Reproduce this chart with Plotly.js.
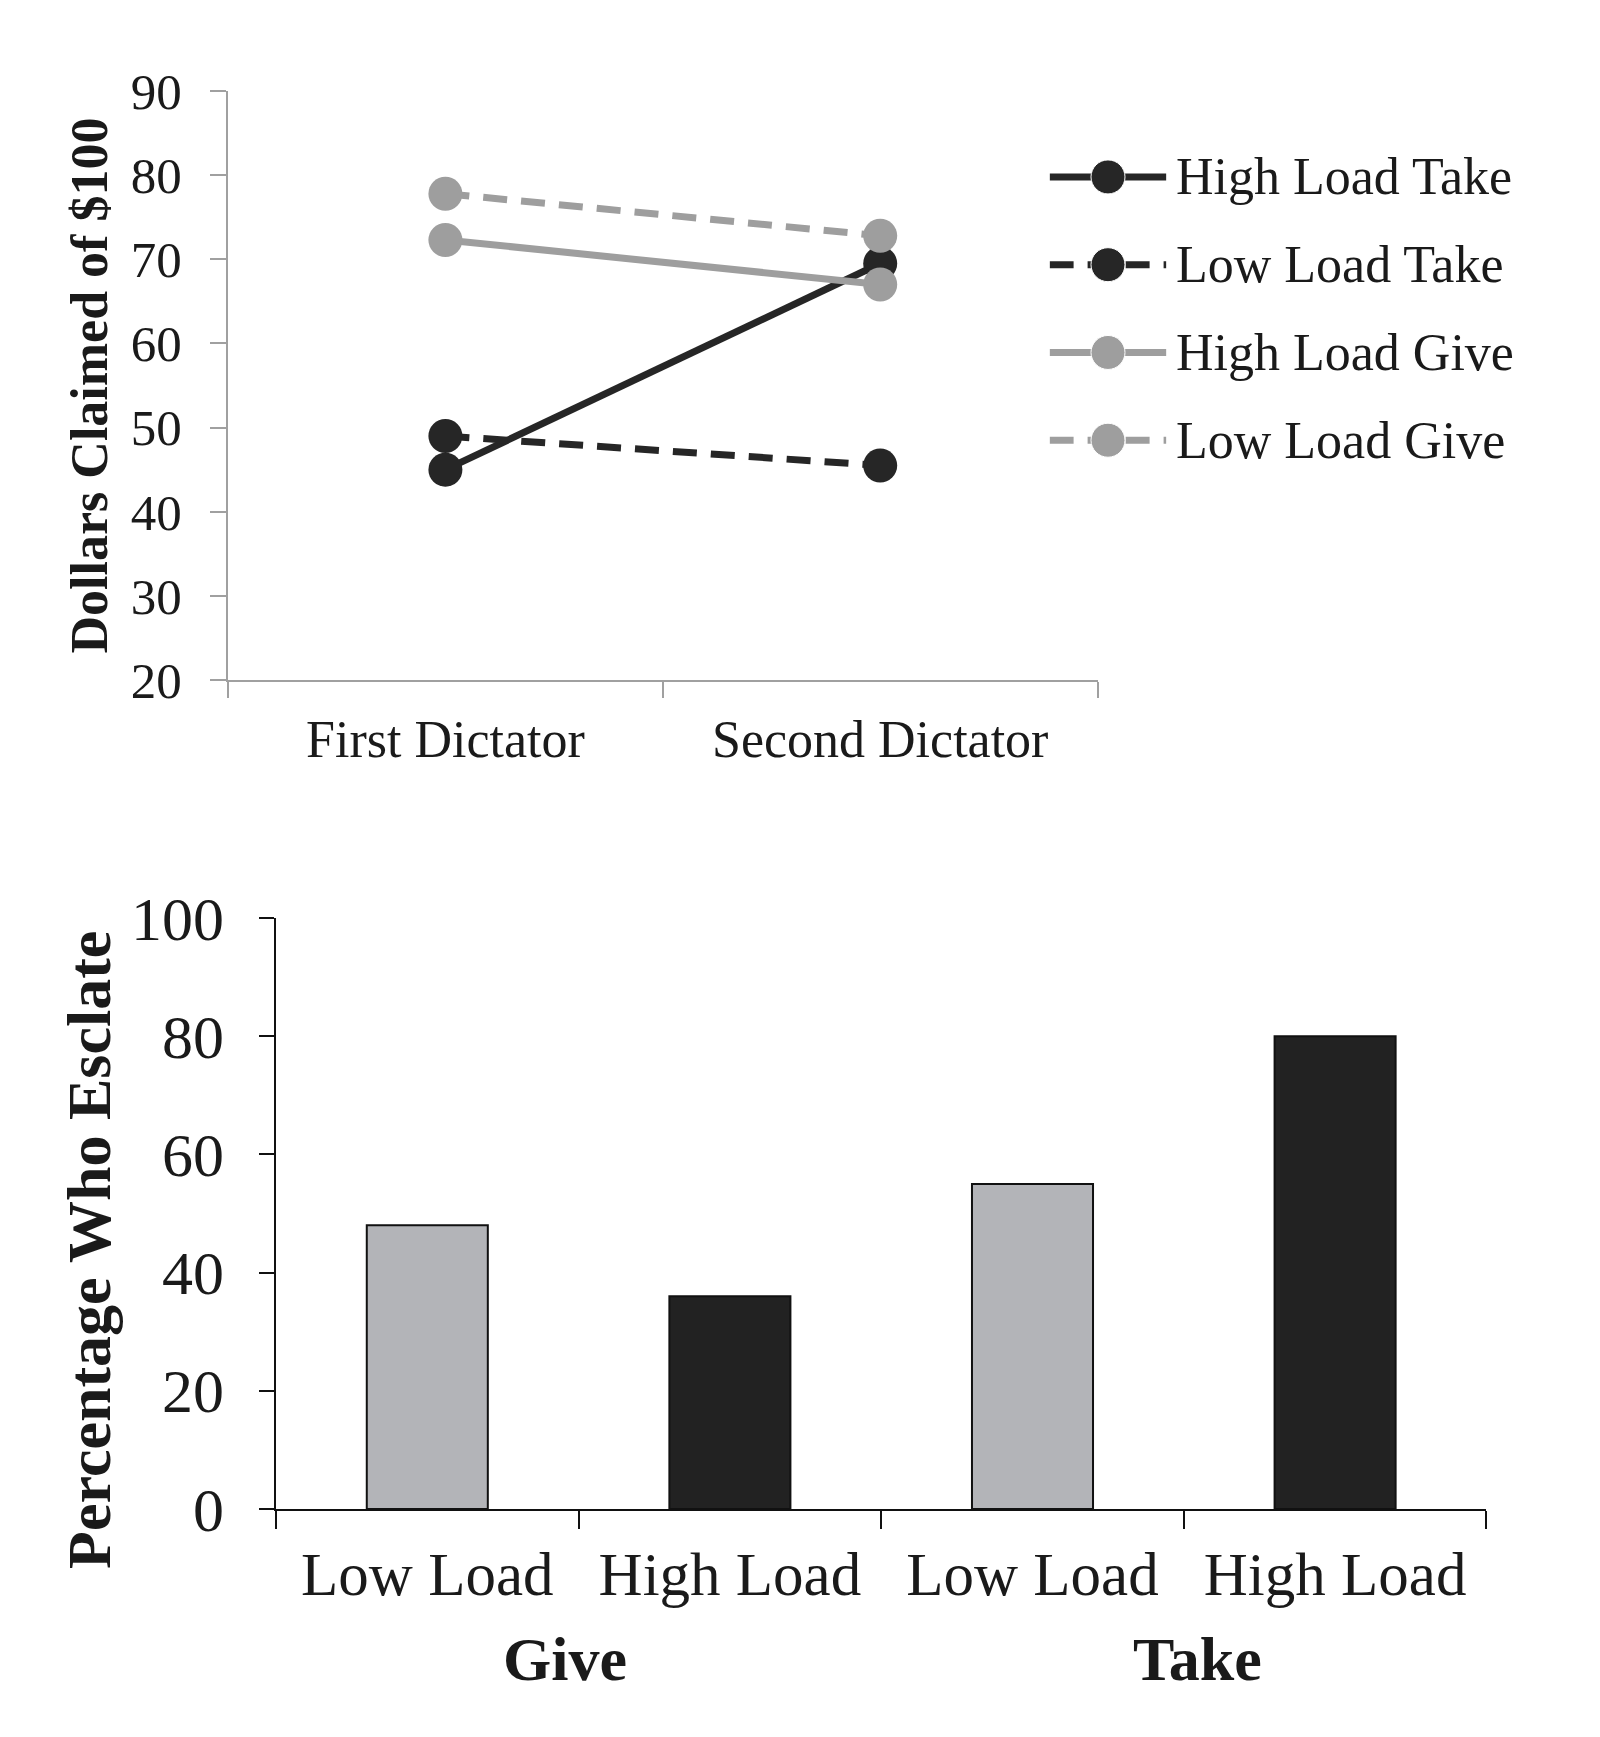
<!DOCTYPE html>
<html>
<head>
<meta charset="utf-8">
<script src="https://cdn.plot.ly/plotly-3.0.1.min.js"></script>
<style>html,body{margin:0;padding:0;background:#fff;}#chart{width:1600px;height:1737px;}</style>
</head>
<body>
<div id="chart"></div>
<script>
// ---- Top chart data ----
const phases = ["First Dictator", "Second Dictator"];
const seriesNames = ["High Load Take", "Low Load Take", "High Load Give", "Low Load Give"];
const highLoadTake = [45, 69.5];
const lowLoadTake = [49, 45.5];
const highLoadGive = [72.3, 67];
const lowLoadGive = [77.8, 72.8];

// ---- Bottom chart data ----
const barIds = ["Give Low Load", "Give High Load", "Take Low Load", "Take High Load"];
const barLabels = ["Low Load", "High Load", "Low Load", "High Load"];
const barGroups = ["Give", "Take"];
const escalatePct = [48, 36, 55, 80];

const FONT = "Liberation Serif";
const dark = "#262626", grey = "#9e9e9e";
const lightBar = "#b3b4b8", darkBar = "#222222";
const DASH = "24px,14px";

const seriesValues = [highLoadTake, lowLoadTake, highLoadGive, lowLoadGive];
const seriesColors = [dark, dark, grey, grey];
const seriesDash = ["solid", DASH, "solid", DASH];

const traces = [];
seriesNames.forEach((name, i) => {
  traces.push({
    type: "scatter", mode: "lines+markers", name: name, x: phases, y: seriesValues[i],
    xaxis: "x", yaxis: "y", showlegend: false,
    line: {color: seriesColors[i], width: 7, dash: seriesDash[i]},
    marker: {color: seriesColors[i], size: 34, symbol: "circle", opacity: 1}
  });
});

// legend drawn on a hidden axis (rows indexed by series)
const legendX = [0, 1, 2];
seriesNames.forEach((name, i) => {
  traces.push({
    type: "scatter", mode: "lines+markers", x: legendX, y: legendX.map(() => i),
    xaxis: "x3", yaxis: "y3", showlegend: false, hoverinfo: "skip",
    line: {color: seriesColors[i], width: 7, dash: seriesDash[i]},
    marker: {color: seriesColors[i], size: [0, 34, 0], symbol: "circle", opacity: 1}
  });
});

traces.push({
  type: "bar", x: barIds, y: escalatePct, xaxis: "x2", yaxis: "y2",
  width: 0.4, showlegend: false,
  marker: {color: barLabels.map(l => l === "Low Load" ? lightBar : darkBar), line: {color: "#111", width: 2}}
});

const tf = (s) => ({family: FONT, size: s, color: "#1a1a1a"});

const annotations = barGroups.map((g, i) => ({
  text: "<b>" + g + "</b>", xref: "x2", yref: "paper",
  x: i * 2 + 0.5 + (i === 0 ? -0.046 : 0.046), y: 0.045, showarrow: false,
  font: tf(62), xanchor: "center", yanchor: "middle"
}));
seriesNames.forEach((name, i) => {
  annotations.push({
    text: name, xref: "x3", yref: "y3", x: 2, y: i, showarrow: false,
    xanchor: "left", yanchor: "middle", xshift: 8, font: tf(52)
  });
});
annotations.push({
  text: "<b>Percentage Who Esclate</b>", xref: "paper", yref: "paper",
  x: 0.0556, y: 0.2804, textangle: -90, showarrow: false,
  xanchor: "center", yanchor: "middle", font: tf(62)
});

const layout = {
  width: 1600, height: 1737,
  margin: {l: 0, r: 0, t: 0, b: 0},
  paper_bgcolor: "#fff", plot_bgcolor: "#fff",
  font: {family: FONT, color: "#1a1a1a"},
  showlegend: false,
  xaxis: {
    domain: [0.1425, 0.686], anchor: "y", type: "category",
    range: [-0.5, 1.5], tickson: "boundaries",
    ticks: "outside", ticklen: 16, tickwidth: 2, tickcolor: "#a0a0a0",
    showline: true, linecolor: "#a0a0a0", linewidth: 2,
    showgrid: false, zeroline: false,
    tickfont: tf(52), ticklabelstandoff: 13
  },
  yaxis: {
    domain: [0.6085, 0.9476], anchor: "x", range: [20, 90],
    tickvals: [20, 30, 40, 50, 60, 70, 80, 90],
    ticks: "outside", ticklen: 16, tickwidth: 2, tickcolor: "#a0a0a0",
    showline: true, linecolor: "#a0a0a0", linewidth: 2,
    showgrid: false, zeroline: false,
    tickfont: tf(51), ticklabelstandoff: 18,
    title: {text: "<b>Dollars Claimed of $100</b>", font: tf(52), standoff: 7}
  },
  xaxis3: {domain: [0.656, 0.729], anchor: "y3", range: [0, 2], visible: false, fixedrange: true},
  yaxis3: {domain: [0.7213, 0.9234], anchor: "x3", range: [3.5, -0.5], visible: false, fixedrange: true},
  xaxis2: {
    domain: [0.1725, 0.929], anchor: "y2", type: "category",
    range: [-0.5, 3.5], tickson: "boundaries",
    tickmode: "array", tickvals: barIds, ticktext: barLabels,
    ticks: "outside", ticklen: 18, tickwidth: 2, tickcolor: "#111",
    showline: true, linecolor: "#111", linewidth: 2.5,
    showgrid: false, zeroline: false,
    tickfont: tf(61), ticklabelstandoff: 10
  },
  yaxis2: {
    domain: [0.1313, 0.4715], anchor: "x2", range: [0, 100],
    tickvals: [0, 20, 40, 60, 80, 100],
    ticks: "outside", ticklen: 15, tickwidth: 2, tickcolor: "#111",
    showline: true, linecolor: "#111", linewidth: 2.5,
    showgrid: false, zeroline: false,
    tickfont: tf(62), ticklabelstandoff: 22
  },
  annotations: annotations
};

Plotly.newPlot("chart", traces, layout, {displayModeBar: false, staticPlot: true});
</script>
</body>
</html>
